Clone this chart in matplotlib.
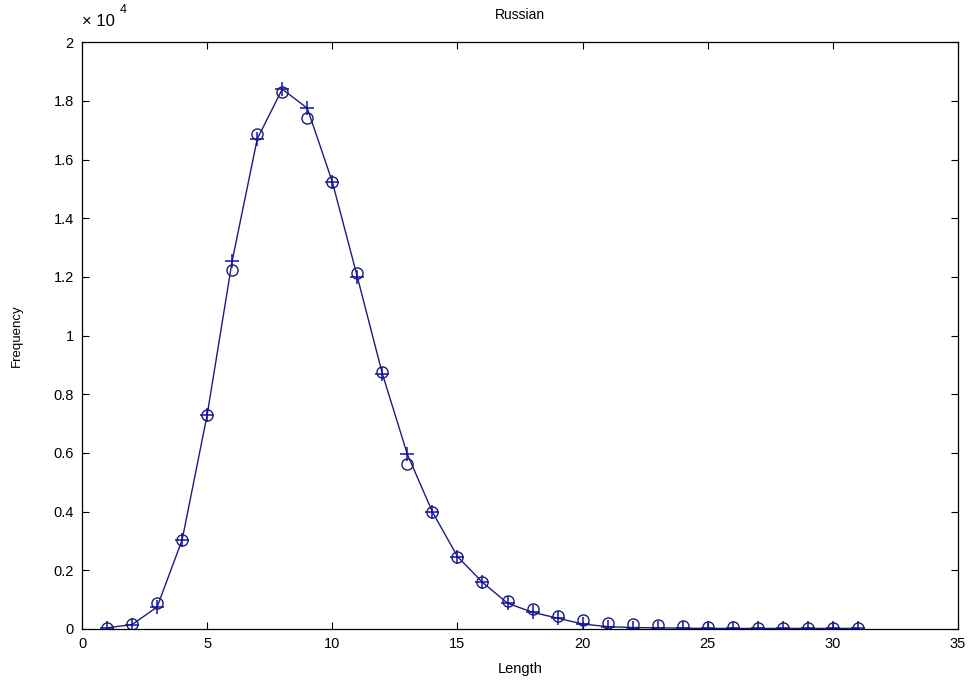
import matplotlib
matplotlib.use("Agg")
import matplotlib.pyplot as plt
from matplotlib.ticker import FuncFormatter

# word length distribution, observed counts (o) and fitted curve (+)
lengths = list(range(1, 32))
observed = [50, 170, 880, 3040, 7300, 12230, 16860, 18300, 17400, 15240,
            12140, 8750, 5640, 3990, 2470, 1590, 950, 680, 440, 300,
            200, 170, 120, 100, 70, 60, 50, 50, 50, 50, 40]
fitted = [40, 150, 750, 3040, 7300, 12550, 16700, 18400, 17750, 15240,
          12000, 8700, 5950, 3990, 2470, 1590, 880, 570, 370, 170,
          80, 50, 40, 30, 20, 20, 20, 20, 20, 20, 20]

x_ticks = [0, 5, 10, 15, 20, 25, 30, 35]
y_ticks = [0, 2000, 4000, 6000, 8000, 10000, 12000, 14000, 16000, 18000, 20000]

plt.rcParams["font.family"] = ["Liberation Sans", "DejaVu Sans"]

fig = plt.figure(figsize=(9.72, 6.8), dpi=100)
ax = fig.add_axes([0.0844, 0.075, 0.9012, 0.863])

ax.plot(lengths, fitted, color="#1c1c80", linewidth=1.0, marker="+",
        markersize=10, markeredgecolor="#1010b0", markeredgewidth=1.1)
ax.plot(lengths, observed, linestyle="none", marker="o", markersize=8,
        markerfacecolor="none", markeredgecolor="#1a1a70", markeredgewidth=1.0)

ax.set_xlim(0, 35)
ax.set_ylim(0, 20000)
ax.set_xticks(x_ticks)
ax.set_yticks(y_ticks)
ax.yaxis.set_major_formatter(FuncFormatter(lambda v, p: "%g" % (v / 1e4)))
ax.tick_params(direction="in", top=True, right=True, length=5, labelsize=10.5,
               width=0.8, pad=6)
for s in ax.spines.values():
    s.set_linewidth(0.9)

ax.set_title("Russian", fontsize=10, pad=17)
ax.set_xlabel("Length", fontsize=10.5, labelpad=8)
ax.set_ylabel("Frequency", fontsize=9.5, labelpad=22)
# MATLAB style exponent label above the y axis
ax.text(0.0, 1.022, "\u00d7 10", transform=ax.transAxes,
        fontsize=12, ha="left", va="bottom")
ax.text(0.043, 1.045, "4", transform=ax.transAxes,
        fontsize=9, ha="left", va="bottom")

fig.savefig("out.png", dpi=100)
